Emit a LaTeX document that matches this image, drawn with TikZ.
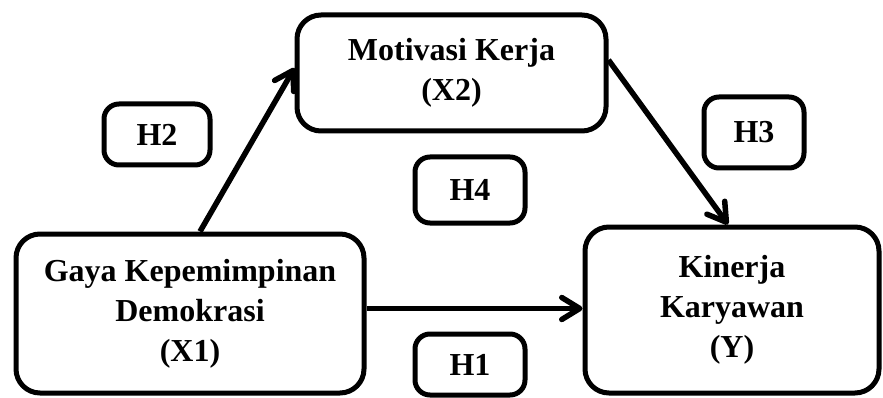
\documentclass[tikz,border=0pt]{standalone}
\usepackage{fontspec}
\setmainfont{Liberation Serif}
\usetikzlibrary{arrows.meta}
\begin{document}
\begin{tikzpicture}[x=1pt,y=-1pt,
  bigbox/.style={draw, line width=5pt, rounded corners=24pt, align=center,
    font=\fontsize{32}{40}\selectfont\bfseries, inner sep=0pt},
  hbox/.style={draw, line width=5pt, rounded corners=15pt, align=center,
    font=\fontsize{32}{36}\selectfont\bfseries, inner sep=0pt},
  arr/.style={line width=5.5pt, -{Straight Barb[round, length=18pt, width=22pt]}}]
\useasboundingbox (0,0) rectangle (883,398);
\node[bigbox, minimum width=348pt, minimum height=159pt] (x1) at (190,313.5)
  {Gaya Kepemimpinan\\Demokrasi\\(X1)};
\node[bigbox, minimum width=309pt, minimum height=116pt] (x2) at (451.5,73)
  {Motivasi Kerja\\(X2)};
\node[bigbox, minimum width=294pt, minimum height=166pt] (y) at (732,310)
  {Kinerja\\Karyawan\\(Y)};
\node[hbox, minimum width=106pt, minimum height=61pt] (h2) at (157,134.5) {H2};
\node[hbox, minimum width=110pt, minimum height=66pt] (h4) at (470,190) {H4};
\node[hbox, minimum width=110pt, minimum height=61pt] (h1) at (470,364.5) {H1};
\node[hbox, minimum width=100pt, minimum height=71pt] (h3) at (754,132.5) {H3};
\draw[arr] ([xshift=10pt]x1.north) -- ([yshift=5pt]x2.west);
\draw[arr] ([yshift=5pt]x1.east) -- ([yshift=5pt]x1.east -| y.west);
\draw[arr] ([yshift=13pt]x2.east) -- ([xshift=-4pt]y.north);
\end{tikzpicture}
\end{document}
